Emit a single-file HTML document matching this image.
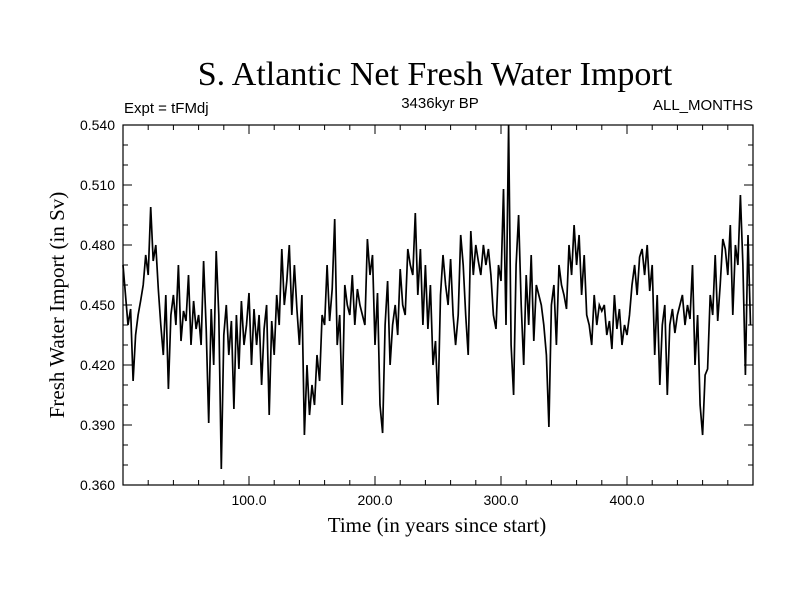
<!DOCTYPE html>
<html><head><meta charset="utf-8"><style>
body{margin:0;background:#fff}
svg text{fill:#000}
</style></head><body>
<svg id="chart" width="800" height="600" xmlns="http://www.w3.org/2000/svg">
<rect width="800" height="600" fill="#fff"/>
<text x="435" y="85" font-family="Liberation Serif, serif" font-size="34" text-anchor="middle">S. Atlantic Net Fresh Water Import</text>
<text x="440" y="108" font-family="Liberation Sans, sans-serif" font-size="15" text-anchor="middle">3436kyr BP</text>
<text x="124" y="113" font-family="Liberation Sans, sans-serif" font-size="15">Expt = tFMdj</text>
<text x="753" y="110" font-family="Liberation Sans, sans-serif" font-size="15" text-anchor="end">ALL_MONTHS</text>
<text x="437" y="532" font-family="Liberation Serif, serif" font-size="21" text-anchor="middle">Time (in years since start)</text>
<text transform="translate(64,305) rotate(-90)" font-family="Liberation Serif, serif" font-size="21" text-anchor="middle">Fresh Water Import (in Sv)</text>
<g id="ticks"></g>
<path id="series" fill="none" stroke="#000" stroke-width="1.7"/>
<rect x="123" y="125" width="630" height="360" fill="none" stroke="#000" stroke-width="1.2"/>
</svg>
<script>
const values=[.470,.455,.440,.448,.412,.435,.445,.452,.460,.475,
.465,.499,.472,.480,.458,.440,.425,.455,.408,.445,
.455,.440,.470,.432,.447,.442,.465,.430,.452,.438,
.445,.430,.472,.438,.391,.448,.420,.477,.445,.368,
.435,.450,.425,.442,.398,.445,.418,.452,.430,.440,
.456,.420,.448,.430,.445,.410,.438,.450,.395,.442,
.425,.455,.440,.478,.450,.462,.480,.445,.470,.448,
.430,.455,.385,.420,.395,.410,.400,.425,.412,.445,
.440,.470,.442,.458,.493,.430,.445,.400,.460,.450,
.445,.465,.440,.458,.450,.445,.440,.483,.465,.475,
.430,.456,.400,.386,.440,.462,.420,.440,.450,.435,
.468,.450,.445,.478,.470,.465,.496,.455,.478,.440,
.470,.438,.460,.420,.432,.400,.455,.475,.460,.450,
.473,.445,.430,.445,.485,.470,.445,.425,.487,.465,
.480,.472,.465,.480,.470,.478,.465,.445,.438,.470,
.462,.508,.440,.540,.430,.405,.470,.495,.450,.420,
.465,.440,.475,.432,.460,.455,.450,.440,.425,.389,
.450,.460,.430,.470,.460,.455,.448,.480,.465,.490,
.470,.485,.455,.475,.445,.440,.430,.455,.440,.450,
.447,.450,.435,.442,.428,.455,.438,.448,.430,.440,
.435,.445,.460,.470,.455,.474,.478,.465,.480,.457,
.470,.425,.455,.410,.440,.450,.405,.440,.448,.436,
.445,.450,.455,.440,.450,.443,.470,.420,.445,.400,
.385,.415,.418,.455,.445,.475,.442,.460,.483,.478,
.465,.490,.445,.480,.470,.505,.470,.415,.485,.440];
const yearStep=2;
const yTickLabels=["0.360","0.390","0.420","0.450","0.480","0.510","0.540"];
const xTickLabels=["100.0","200.0","300.0","400.0"];
const X0=123,X1=753,Y0=485,Y1=125;
const xs=t=>X0+(t/500)*(X1-X0);
const ys=v=>Y0-(v-0.36)/0.18*(Y0-Y1);
const NS="http://www.w3.org/2000/svg";
const g=document.getElementById('ticks');
function ln(x1,y1,x2,y2){const l=document.createElementNS(NS,'line');l.setAttribute('x1',x1);l.setAttribute('y1',y1);l.setAttribute('x2',x2);l.setAttribute('y2',y2);l.setAttribute('stroke','#000');l.setAttribute('stroke-width','1');


g.appendChild(l);}
function tx(x,y,s,anchor,name){const t=document.createElementNS(NS,'text');t.setAttribute('x',x);t.setAttribute('y',y);t.setAttribute('text-anchor',anchor);t.setAttribute('font-family','Liberation Sans, sans-serif');t.setAttribute('font-size','14');t.textContent=s;


g.appendChild(t);}
for(let k=0;k<=18;k++){const v=0.36+k*0.01,y=ys(v),L=(k%3===0)?9:5;ln(X0,y,X0+L,y);ln(X1,y,X1-L,y);}
yTickLabels.forEach(s=>tx(115,ys(parseFloat(s))+5,s,'end','y-tick-label'));
for(let t=0;t<=500;t+=20){const x=xs(t),L=(t%100===0)?9:5;ln(x,Y0,x,Y0-L);ln(x,Y1,x,Y1+L);}
xTickLabels.forEach(s=>tx(xs(parseFloat(s)),505,s,'middle','x-tick-label'));
let d='';values.forEach((v,i)=>{d+=(i?'L':'M')+xs(i*yearStep).toFixed(1)+','+ys(v).toFixed(1);});
document.getElementById('series').setAttribute('d',d);
</script>
</body></html>
